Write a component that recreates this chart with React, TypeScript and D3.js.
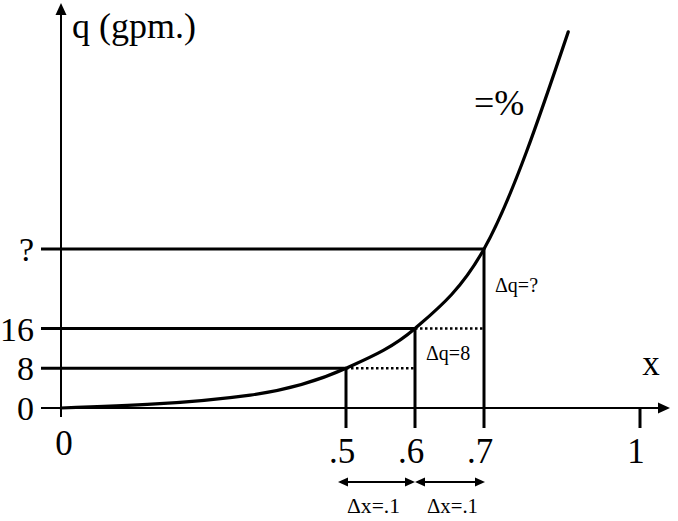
import React from "react";
import * as d3 from "d3";

// x positions (schematic, non-uniform axis)
const xTickValues = [0.5, 0.6, 0.7, 1];
const xTickLabels = [".5", ".6", ".7", "1"];
const xDomainBreaks = [0, 0.5, 0.6, 0.7, 1];

// q levels drawn as guide lines
const levelX = [0.5, 0.6, 0.7];
const levelQ = [8, 16, 32];
const levelLabels = ["8", "16", "?"];

// the curve q(x)
const curveX = [0, 0.332, 0.5, 0.6, 0.7, 0.862];
const curveQ = [0, 2.6, 8, 16, 32, 75.7];

const deltaQLabels = ["Δq=8", "Δq=?"];
const deltaXLabels = ["Δx=.1", "Δx=.1"];

const W = 678;
const H = 521;
const FONT = "'Liberation Serif', 'Times New Roman', serif";

export default function App() {
  const x = d3
    .scaleLinear()
    .domain(xDomainBreaks)
    .range([61, 346, 415, 484, 640]);
  const y = d3.scaleLinear().domain([0, 32]).range([408, 249]);

  const line = d3
    .line<number>()
    .x((_, i) => x(curveX[i]))
    .y((d) => y(d))
    .curve(d3.curveMonotoneX);

  const x0 = x(0);
  const y0 = y(0);
  const axisLeft = 41;
  const tickBottom = 428;
  const big = 35;

  const arrowY = 482;
  const head = (tipX: number, tipY: number, dir: number, len = 10, half = 4.5) =>
    `M${tipX},${tipY} L${tipX - dir * len},${tipY - half} L${tipX - dir * len},${tipY + half} Z`;

  return (
    <svg
      width={W}
      height={H}
      style={{ position: "absolute", left: 0, top: 0, background: "#fff" }}
      fontFamily={FONT}
    >
      {/* axes */}
      <line x1={axisLeft} y1={y0} x2={660} y2={y0} stroke="#000" strokeWidth={2} />
      <path d={`M670,${y0} L658,${y0 - 5.5} L658,${y0 + 5.5} Z`} fill="#000" />
      <line x1={x0} y1={417} x2={x0} y2={14} stroke="#000" strokeWidth={2} />
      <path d={`M${x0},3 L${x0 - 5.5},15 L${x0 + 5.5},15 Z`} fill="#000" />

      {/* y-axis title */}
      <text x={72} y={38} fontSize={36}>q (gpm.)</text>
      {/* x-axis title */}
      <text x={651} y={375} fontSize={big} textAnchor="middle">x</text>

      {/* horizontal guide lines */}
      {levelQ.map((q, i) => (
        <line
          key={"h" + i}
          x1={axisLeft}
          y1={y(q)}
          x2={x(levelX[i])}
          y2={y(q)}
          stroke="#000"
          strokeWidth={3}
        />
      ))}
      {/* dotted extensions */}
      {levelQ.slice(0, 2).map((q, i) => (
        <line
          key={"d" + i}
          x1={x(levelX[i])}
          y1={y(q)}
          x2={x(levelX[i + 1])}
          y2={y(q)}
          stroke="#000"
          strokeWidth={2.5}
          strokeDasharray="2.5,2.5"
        />
      ))}
      {/* vertical drop lines */}
      {levelQ.map((q, i) => (
        <line
          key={"v" + i}
          x1={x(levelX[i])}
          y1={y(q)}
          x2={x(levelX[i])}
          y2={tickBottom}
          stroke="#000"
          strokeWidth={3}
        />
      ))}
      {/* tick at 1 */}
      <line x1={x(1)} y1={y0} x2={x(1)} y2={tickBottom} stroke="#000" strokeWidth={3} />

      {/* y labels */}
      <text x={34} y={y0 + 12} fontSize={34} textAnchor="end">0</text>
      {levelQ.map((q, i) => (
        <text key={"yl" + i} x={34} y={y(q) + 12} fontSize={34} textAnchor="end">
          {levelLabels[i]}
        </text>
      ))}

      {/* x labels */}
      <text x={x0 + 3} y={455} fontSize={big} textAnchor="middle">0</text>
      {xTickValues.map((v, i) => (
        <text key={"xl" + i} x={x(v) - 4} y={463} fontSize={big} textAnchor="middle">
          {xTickLabels[i]}
        </text>
      ))}

      {/* curve */}
      <path d={line(curveQ) || ""} fill="none" stroke="#000" strokeWidth={3.2} strokeLinecap="round" />

      {/* curve label */}
      <text x={474} y={115} fontSize={36}>=%</text>

      {/* delta q labels */}
      <text x={426} y={360} fontSize={20}>{deltaQLabels[0]}</text>
      <text x={495} y={292} fontSize={20}>{deltaQLabels[1]}</text>

      {/* delta x arrows */}
      <line x1={x(0.5) - 6} y1={arrowY} x2={x(0.6) - 2} y2={arrowY} stroke="#000" strokeWidth={2} />
      <path d={head(x(0.5) - 8, arrowY, -1)} fill="#000" />
      <path d={head(x(0.6), arrowY, 1)} fill="#000" />
      <line x1={x(0.6) + 2} y1={arrowY} x2={x(0.7) - 2} y2={arrowY} stroke="#000" strokeWidth={2} />
      <path d={head(x(0.6), arrowY, -1)} fill="#000" />
      <path d={head(x(0.7) + 1, arrowY, 1)} fill="#000" />

      <text x={347} y={513} fontSize={20} textLength={53} lengthAdjust="spacingAndGlyphs">{deltaXLabels[0]}</text>
      <text x={427} y={513} fontSize={20} textLength={51} lengthAdjust="spacingAndGlyphs">{deltaXLabels[1]}</text>
    </svg>
  );
}
